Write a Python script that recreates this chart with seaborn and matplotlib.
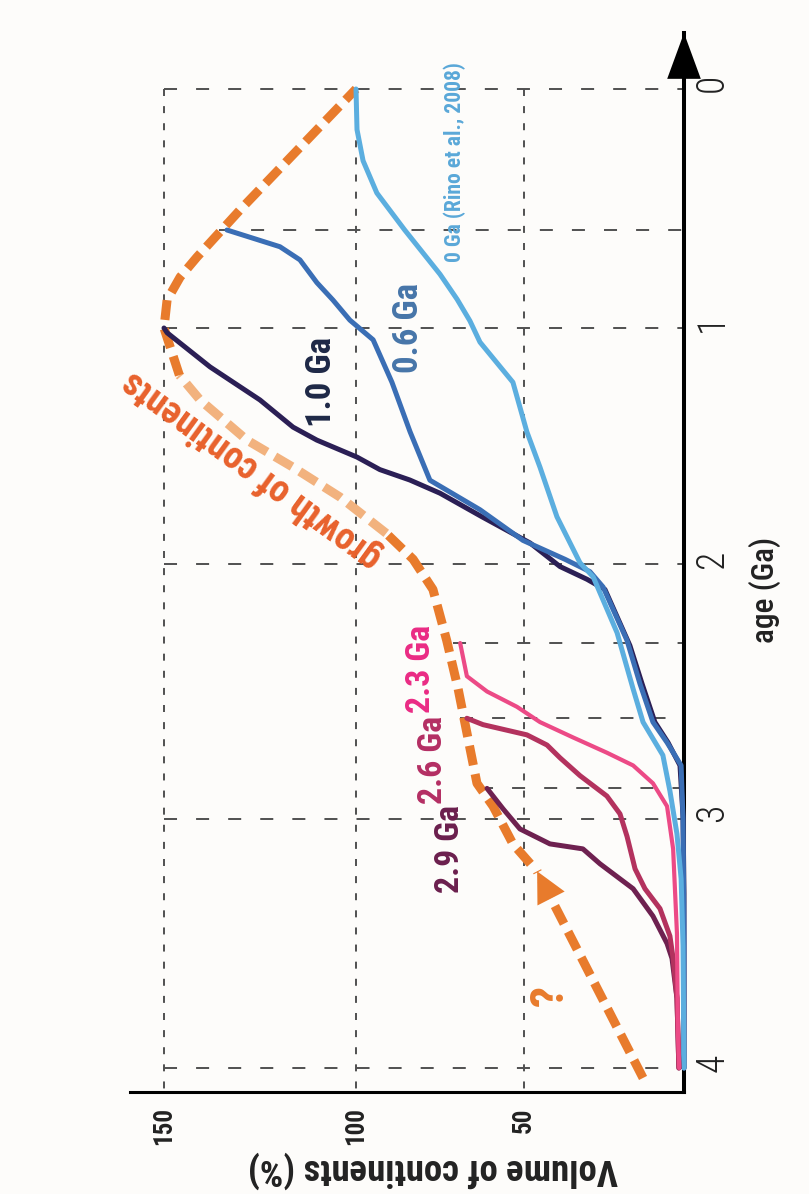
import numpy as np
import matplotlib
matplotlib.use('Agg')
import matplotlib.pyplot as plt
import seaborn as sns

# curves: age (Ga) and volume of continents (%)
age_00 = [0.0, 0.17, 0.30, 0.435, 0.59, 0.775, 0.88, 0.97, 1.06, 1.23, 1.44, 1.59, 1.80, 1.995,
          2.05, 2.27, 2.49, 2.62, 2.75, 2.89, 3.06, 3.24, 3.51, 4.0]
vol_00 = [100, 99.7, 97.9, 93.8, 85.5, 75.0, 69.9, 66.1, 63.1, 53.3, 49.1, 45.0, 39.7, 32.5,
          28.4, 20.9, 15.9, 12.8, 6.6, 4.4, 2.2, 0.9, 0.3, 0.0]

age_06 = [0.59, 0.66, 0.715, 0.81, 0.883, 0.967, 1.05, 1.23, 1.44, 1.645, 1.77, 1.90, 1.98, 2.03,
          2.09, 2.30, 2.47, 2.62, 2.70, 2.79, 3.0, 3.5, 4.0]
vol_06 = [133.6, 119.8, 114.6, 110.2, 106.0, 101.6, 94.9, 89.3, 83.9, 78.0, 63.1, 50.3, 37.2, 29.4,
          25.3, 17.8, 13.75, 9.7, 5.3, 0.9, 0.3, 0.0, 0.0]

age_10 = [1.0, 1.02, 1.165, 1.305, 1.42, 1.475, 1.547, 1.60, 1.644, 1.70, 1.80, 1.911, 2.01, 2.06,
          2.10, 2.32, 2.47, 2.62, 2.70, 2.79, 2.99, 3.3, 4.0]
vol_10 = [150, 149.2, 138.0, 125.0, 116.4, 110.2, 99.7, 92.9, 84.0, 75.0, 62.5, 48.1, 38.75, 30.3,
          24.7, 16.9, 13.1, 9.1, 5.0, 1.25, 0.3, 0.0, 0.0]

age_23 = [2.31, 2.44, 2.50, 2.56, 2.62, 2.68, 2.74, 2.79, 2.86, 2.95, 3.12, 3.46, 3.86, 4.0]
vol_23 = [69.0, 67.0, 61.0, 52.1, 45.0, 34.7, 24.1, 15.9, 9.7, 5.3, 3.4, 2.2, 1.9, 1.5]

age_26 = [2.605, 2.63, 2.67, 2.71, 2.76, 2.83, 2.91, 2.98, 3.07, 3.20, 3.28, 3.36, 3.47, 3.56, 3.72, 4.0]
vol_26 = [67.0, 62.2, 49.1, 42.8, 38.75, 32.5, 24.1, 20.0, 17.8, 15.3, 12.2, 7.5, 4.4, 3.4, 2.2, 1.6]

age_29 = [2.88, 2.96, 3.04, 3.10, 3.12, 3.18, 3.28, 3.39, 3.50, 3.56, 3.72, 4.0]
vol_29 = [61.0, 56.25, 51.2, 41.9, 31.6, 26.25, 15.9, 9.7, 5.3, 3.75, 2.2, 1.6]

# growth of continents (orange dashed) and the "?" arrow below it
growth_age = [3.18, 3.10, 2.95, 2.86, 2.49, 2.30, 2.10, 1.98, 1.87, 1.716, 1.59, 1.475, 1.305,
              1.20, 1.0, 0.883, 0.787, 0.703, 0.506, 0.0]
growth_vol = [48.0, 53.3, 59.2, 64.0, 69.6, 73.0, 77.1, 83.0, 91.0, 104.2, 116.4, 128.4, 140.6,
              146.0, 150.0, 149.2, 145.8, 141.4, 130.2, 100.0]
arrow_age = [4.04, 3.21]
arrow_vol = [12.8, 45.9]

vol_ticks = [150, 100, 50]
age_ticks = [0, 1, 2, 3, 4]

curves = [
    ('1.0 Ga', age_10, vol_10, '#2B1F55', '#1E2846', 1.23, 108.9),
    ('0.6 Ga', age_06, vol_06, '#3A6EB5', '#4675A9', 1.0, 84.5),
    ('0 Ga (Rino et al., 2008)', age_00, vol_00, '#5BAEDF', '#5AA8D8', 0.305, 70.5),
    ('2.9 Ga', age_29, vol_29, '#6E2150', '#6B1F4D', 3.12, 72.0),
    ('2.6 Ga', age_26, vol_26, '#B3325E', '#B42E63', 2.77, 77.1),
    ('2.3 Ga', age_23, vol_23, '#EC4A86', '#EA2B84', 2.41, 80.7),
]

sns.set_style('white')
plt.rcParams['font.family'] = ['Roboto Condensed', 'Liberation Sans Narrow', 'Liberation Sans',
                               'DejaVu Sans']

fig = plt.figure(figsize=(8.09, 11.94), dpi=100, facecolor='#fdfcfa')
ax = fig.add_axes([130 / 809, 102 / 1194, 554 / 809, 1059 / 1194])
ax.set_facecolor('#fdfcfa')

# the reference axes are not evenly spaced, so use piecewise-linear scales
vol_pts = [-50, 0, 50, 100, 150, 250]
vol_px = [-160, 0, 160, 328, 520, 904]
age_pts = [-1, 0, 1, 2, 3, 4, 5]
age_px = [-239, 0, 239, 475, 730, 979, 1228]
ax.set_xscale('function', functions=(lambda v: np.interp(v, vol_pts, vol_px),
                                     lambda p: np.interp(p, vol_px, vol_pts)))
ax.set_yscale('function', functions=(lambda a: np.interp(a, age_pts, age_px),
                                     lambda p: np.interp(p, age_px, age_pts)))
ax.set_xlim(np.interp(554, vol_px, vol_pts), 0)
ax.set_ylim(np.interp(1003, age_px, age_pts), np.interp(-56, age_px, age_pts))
y_bottom = ax.get_ylim()[0]

# grid
grid_c = '#505050'
ax.hlines(age_ticks, 150, 0, color=grid_c, lw=1.4, linestyles=[(0, (6.7, 9.8))], zorder=1)
ax.vlines(vol_ticks, 0, y_bottom, color=grid_c, lw=1.4, linestyles=[(0, (3.6, 5.2))], zorder=1)
for name, ages, vols, *_ in curves:
    if name in ('2.3 Ga', '2.6 Ga', '2.9 Ga', '0.6 Ga'):
        ax.hlines(ages[0], vols[0] + 2, 0, color=grid_c, lw=1.4,
                  linestyles=[(0, (6.7, 9.8))], zorder=1)

# growth of continents
orange = '#E87B2C'
faded = '#F2B27E'
g_age = np.array(growth_age)
g_vol = np.array(growth_vol)
parts = [(g_age >= 1.87, orange), ((g_age <= 1.87) & (g_age >= 1.20), faded), (g_age <= 1.20, orange)]
for mask, col in parts:
    sns.lineplot(x=g_vol[mask], y=g_age[mask], sort=False, estimator=None, ax=ax,
                 color=col, lw=6.5, linestyle=(0, (2.2, 1.0)), zorder=2)
sns.lineplot(x=arrow_vol, y=arrow_age, sort=False, estimator=None, ax=ax,
             color=orange, lw=6.5, linestyle=(0, (2.2, 1.0)), zorder=2)
ax.lines[-1].set_clip_on(False)
ax.annotate('', xy=(arrow_vol[1], arrow_age[1]), xytext=(arrow_vol[0], arrow_age[0]),
            arrowprops=dict(arrowstyle='-|>,head_length=1.1,head_width=0.55', color=orange,
                            lw=0, mutation_scale=20, shrinkA=0, shrinkB=0))

# model curves
for name, ages, vols, col, lab_col, lab_age, lab_vol in curves:
    sns.lineplot(x=vols, y=ages, sort=False, estimator=None, ax=ax, color=col,
                 lw=3.0 if name == '2.3 Ga' else 3.6, zorder=3)
    ax.lines[-1].set_clip_on(False)
    if name.startswith('0 Ga'):
        size = 15.6
    elif name in ('1.0 Ga', '0.6 Ga'):
        size = 25
    else:
        size = 24.5
    ax.text(lab_vol, lab_age, name, rotation=90, ha='center', va='center', color=lab_col,
            fontsize=size, fontweight='bold')

ax.text(127.1, 1.60, 'growth of continents', rotation=144, rotation_mode='anchor',
        ha='center', va='center', color='#E8612C', fontsize=27, fontweight='bold')
ax.text(41.9, 3.71, '?', rotation=90, ha='center', va='center', color=orange,
        fontsize=34, fontweight='bold')

# axes
for side in ['top', 'left']:
    ax.spines[side].set_visible(False)
ax.spines['right'].set_linewidth(2.9)
ax.spines['bottom'].set_linewidth(2.2)
ax.spines['right'].set_color('black')
ax.spines['bottom'].set_color('black')
ax.annotate('', xy=(1, 1), xycoords='axes fraction', xytext=(1, 0.95),
            arrowprops=dict(arrowstyle='-|>,head_length=1.5,head_width=0.55', color='black',
                            lw=0, mutation_scale=22, shrinkA=0, shrinkB=0))

ax.set_xticks(vol_ticks)
ax.set_xticklabels([str(v) for v in vol_ticks], fontweight='bold')
ax.set_yticks(age_ticks)
ax.set_yticklabels([str(a) for a in age_ticks], fontweight='light')
ax.yaxis.tick_right()
ax.tick_params(axis='x', length=0, pad=11, labelrotation=90, labelsize=18, colors='#222222')
ax.tick_params(axis='y', length=0, pad=7, labelrotation=90, labelsize=27, colors='#222222')
ax.set_xlabel('')
ax.set_ylabel('')
ax.minorticks_off()

ax.text(1.146, 0.474, 'age (Ga)', transform=ax.transAxes, rotation=90, ha='center',
        va='center', fontsize=22.5, fontweight='medium', color='#222222')
ax.text(0.547, -0.0737, 'Volume of continents (%)', transform=ax.transAxes, rotation=180,
        ha='center', va='center', fontsize=26.5, fontweight='bold', color='#222222')

fig.savefig('out.png', dpi=100, facecolor=fig.get_facecolor())
